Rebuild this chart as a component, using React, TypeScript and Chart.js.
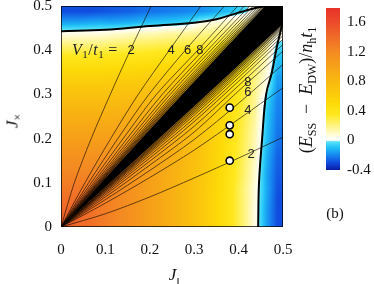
import React, { useEffect, useRef } from 'react';
import { Chart, registerables } from 'chart.js';
Chart.register(...registerables);

// ---------- data ----------
const gridStep = 0.025;
// (E_SS - E_DW)/n_h t_1 at cell centres of a 0.025 grid; row i (J_x cell), entries for J cells j >= i (mirrored above the diagonal)
const gapTriangle: number[][] = [
  [1.48, 1.42, 1.37, 1.31, 1.25, 1.19, 1.13, 1.06, 0.99, 0.92, 0.84, 0.76, 0.67, 0.57, 0.47, 0.35, 0.21, 0.05, -0.15, -0.30],
  [1.42, 1.37, 1.31, 1.25, 1.19, 1.13, 1.06, 0.99, 0.92, 0.84, 0.76, 0.67, 0.57, 0.47, 0.35, 0.21, 0.05, -0.15, -0.30],
  [1.37, 1.31, 1.25, 1.19, 1.13, 1.06, 0.99, 0.92, 0.84, 0.76, 0.67, 0.57, 0.47, 0.35, 0.21, 0.06, -0.14, -0.30],
  [1.31, 1.25, 1.19, 1.13, 1.06, 0.99, 0.92, 0.84, 0.76, 0.67, 0.57, 0.47, 0.35, 0.21, 0.06, -0.13, -0.29],
  [1.25, 1.19, 1.13, 1.06, 0.99, 0.92, 0.84, 0.76, 0.68, 0.58, 0.48, 0.37, 0.23, 0.08, -0.14, -0.28],
  [1.19, 1.13, 1.06, 0.99, 0.93, 0.85, 0.77, 0.69, 0.59, 0.49, 0.37, 0.24, 0.09, -0.13, -0.27],
  [1.13, 1.06, 1.00, 0.93, 0.87, 0.78, 0.69, 0.59, 0.49, 0.37, 0.25, 0.11, -0.12, -0.26],
  [1.07, 1.00, 0.94, 0.87, 0.78, 0.70, 0.60, 0.50, 0.38, 0.26, 0.12, -0.10, -0.24],
  [1.00, 0.94, 0.87, 0.79, 0.70, 0.61, 0.51, 0.39, 0.27, 0.13, -0.09, -0.23],
  [0.94, 0.88, 0.79, 0.71, 0.61, 0.51, 0.40, 0.28, 0.15, -0.08, -0.22],
  [0.88, 0.80, 0.71, 0.62, 0.52, 0.41, 0.29, 0.16, -0.07, -0.21],
  [0.80, 0.72, 0.62, 0.53, 0.42, 0.30, 0.17, -0.05, -0.20],
  [0.73, 0.63, 0.54, 0.43, 0.31, 0.18, 0.03, -0.18],
  [0.65, 0.55, 0.44, 0.32, 0.20, 0.06, -0.16],
  [0.57, 0.46, 0.35, 0.23, 0.09, -0.12],
  [0.49, 0.37, 0.26, 0.13, -0.09],
  [0.40, 0.29, 0.17, -0.04],
  [0.31, 0.19, 0.06],
  [0.22, 0.09],
  [0.09],
];

// contour lines of constant V1/t1 (branch below the diagonal: J_x at the J values of jGrid)
const jGrid = [0, 0.1, 0.2, 0.3, 0.4, 0.5];
const contourLower: number[][] = [
  [0, 0.030, 0.068, 0.111, 0.156, 0.203], // 2
  [0, 0.054, 0.112, 0.174, 0.244, 0.315], // 4
  [0, 0.062, 0.128, 0.198, 0.280, 0.368], // 6
  [0, 0.068, 0.140, 0.215, 0.308, 0.398], // 8
  [0, 0.073, 0.149, 0.228, 0.320, 0.413], // 10
  [0, 0.077, 0.156, 0.2385, 0.330, 0.425], // 12
  [0, 0.080, 0.162, 0.246, 0.338, 0.433], // 14
  [0, 0.0825, 0.167, 0.253, 0.345, 0.440], // 16
  [0, 0.0845, 0.1706, 0.258, 0.350, 0.446], // 20
  [0, 0.0862, 0.1736, 0.262, 0.355, 0.451], // 24
  [0, 0.0877, 0.1764, 0.266, 0.359, 0.455], // 30
  [0, 0.089, 0.179, 0.270, 0.363, 0.458], // 40
];
const bandEdgeLower = [0, 0.0905, 0.1816, 0.273, 0.366, 0.46];

const topBoundaryJ = [0, 0.1, 0.2, 0.3, 0.35, 0.4, 0.44, 0.47];
const topBoundaryJx = [0.443, 0.446, 0.455, 0.462, 0.47, 0.485, 0.496, 0.5];
const rightBoundaryJ = [0.444, 0.446, 0.453, 0.462, 0.475, 0.486, 0.496, 0.5];
const rightBoundaryJx = [0, 0.1, 0.2, 0.3, 0.35, 0.407, 0.45, 0.47];

const markerJ = [0.38, 0.38, 0.38, 0.38];
const markerJx = [0.15, 0.21, 0.23, 0.27];

const contourLabels = ['2', '4', '6', '8'];
const upperLabelJ = [0.158, 0.248, 0.285, 0.313];
const upperLabelJx = [0.4, 0.4, 0.4, 0.4];
const lowerLabelJ = [0.428, 0.421, 0.421, 0.421];
const lowerLabelJx = [0.165, 0.264, 0.304, 0.327];
const ratioLabelPos = [0.025, 0.389];

const axisTicks = [0, 0.1, 0.2, 0.3, 0.4, 0.5];
const colorbarTicks = [-0.4, 0, 0.4, 0.8, 1.2, 1.6];
const colorbarRange = [-0.4, 1.79];

const cmapValues = [-0.4, -0.3, -0.2, -0.1, -0.02, -0.005, 0, 0.06, 0.2, 0.35, 0.5, 0.65, 0.8, 1.0, 1.2, 1.4, 1.6, 1.8];
const cmapColors: number[][] = [
  [10, 28, 165], [16, 76, 222], [22, 134, 240], [32, 192, 246], [84, 226, 250], [175, 242, 250],
  [255, 255, 255], [255, 253, 225], [255, 244, 130], [255, 232, 30], [253, 218, 8], [251, 200, 12],
  [249, 185, 16], [246, 162, 24], [244, 138, 34], [240, 106, 40], [236, 74, 42], [232, 50, 42],
];

// ---------- helpers ----------
function rgbFor(v: number): number[] {
  if (v <= cmapValues[0]) return cmapColors[0];
  for (let k = 1; k < cmapValues.length; k++) {
    if (v <= cmapValues[k]) {
      const t = (v - cmapValues[k - 1]) / (cmapValues[k] - cmapValues[k - 1]);
      const a = cmapColors[k - 1], b = cmapColors[k];
      return a.map((ai, m) => Math.round(ai + (b[m] - ai) * t));
    }
  }
  return cmapColors[cmapColors.length - 1];
}

const nCells = gapTriangle.length;
const gapGrid: number[][] = [];
for (let i = 0; i < nCells; i++) {
  const row: number[] = [];
  for (let j = 0; j < nCells; j++) row.push(j >= i ? gapTriangle[i][j - i] : gapTriangle[j][i - j]);
  gapGrid.push(row);
}

// smooth (bilinear) shading between cell centres, like pm3d interpolation
function shadeAt(jv: number, jxv: number): number {
  const u = Math.min(nCells - 1, Math.max(0, jv / gridStep - 0.5));
  const w = Math.min(nCells - 1, Math.max(0, jxv / gridStep - 0.5));
  const j0 = Math.min(nCells - 2, Math.floor(u)), i0 = Math.min(nCells - 2, Math.floor(w));
  const fu = u - j0, fw = w - i0;
  const a = gapGrid[i0][j0], b = gapGrid[i0][j0 + 1], c = gapGrid[i0 + 1][j0], d = gapGrid[i0 + 1][j0 + 1];
  return (a * (1 - fu) + b * fu) * (1 - fw) + (c * (1 - fu) + d * fu) * fw;
}

const fmt = (v: number) => (Math.abs(v) < 1e-9 ? '0' : v.toFixed(1));
const serif = '"Liberation Serif", "Times New Roman", serif';

const heatmapPlugin = {
  id: 'heatmap',
  beforeDatasetsDraw(chart: any) {
    const { ctx, chartArea, scales } = chart;
    const xs = scales.x, ys = scales.y;
    const px = (v: number) => xs.getPixelForValue(v);
    const py = (v: number) => ys.getPixelForValue(v);
    const L = Math.round(chartArea.left), T = Math.round(chartArea.top);
    const W = Math.round(chartArea.right) - L, H = Math.round(chartArea.bottom) - T;
    const img = ctx.createImageData(W, H);
    for (let yy = 0; yy < H; yy++) {
      const jxv = ys.getValueForPixel(T + yy + 0.5);
      for (let xx = 0; xx < W; xx++) {
        const jv = xs.getValueForPixel(L + xx + 0.5);
        const c = rgbFor(shadeAt(jv, jxv));
        const o = (yy * W + xx) * 4;
        img.data[o] = c[0]; img.data[o + 1] = c[1]; img.data[o + 2] = c[2]; img.data[o + 3] = 255;
      }
    }
    ctx.putImageData(img, L, T);
    ctx.save();
    ctx.beginPath();
    ctx.rect(chartArea.left, chartArea.top, chartArea.right - chartArea.left, chartArea.bottom - chartArea.top);
    ctx.clip();
    // dense bundle of contour lines along the diagonal
    const bandPath = () => {
      ctx.beginPath();
      ctx.moveTo(px(jGrid[0]), py(bandEdgeLower[0]));
      for (let k = 1; k < jGrid.length; k++) ctx.lineTo(px(jGrid[k]), py(bandEdgeLower[k]));
      ctx.lineTo(px(0.5), py(0.5));
      for (let k = jGrid.length - 1; k >= 0; k--) ctx.lineTo(px(bandEdgeLower[k]), py(jGrid[k]));
      ctx.closePath();
    };
    ctx.filter = 'blur(3px)';
    ctx.fillStyle = 'rgba(20,8,0,0.85)';
    bandPath();
    ctx.fill();
    ctx.filter = 'none';
    ctx.fillStyle = '#000';
    bandPath();
    ctx.fill();
    ctx.restore();
  },
  afterDatasetsDraw(chart: any) {
    const { ctx, chartArea, scales } = chart;
    const xs = scales.x, ys = scales.y;
    ctx.save();
    ctx.font = '13px "Liberation Sans", Arial, sans-serif';
    ctx.fillStyle = '#222';
    ctx.textAlign = 'center';
    ctx.textBaseline = 'middle';
    contourLabels.forEach((t, k) => {
      ctx.fillText(t, xs.getPixelForValue(upperLabelJ[k]), ys.getPixelForValue(upperLabelJx[k]));
      ctx.fillText(t, xs.getPixelForValue(lowerLabelJ[k]), ys.getPixelForValue(lowerLabelJx[k]));
    });
    let px = xs.getPixelForValue(ratioLabelPos[0]);
    const py = ys.getPixelForValue(ratioLabelPos[1]);
    ctx.textAlign = 'left';
    ctx.textBaseline = 'alphabetic';
    const parts: [string, string, number][] = [
      ['V', `italic 16px ${serif}`, 0], ['1', `11px ${serif}`, 3], ['/', `16px ${serif}`, 0],
      ['t', `italic 16px ${serif}`, 0], ['1', `11px ${serif}`, 3], [' =', `16px ${serif}`, 0],
    ];
    for (const [txt, font, dy] of parts) {
      ctx.font = font;
      ctx.fillText(txt, px, py + dy);
      px += ctx.measureText(txt).width + 0.5;
    }
    ctx.strokeStyle = 'rgba(0,0,0,0.75)';
    ctx.lineWidth = 1;
    ctx.strokeRect(chartArea.left + 0.5, chartArea.top + 0.5, chartArea.right - chartArea.left - 1, chartArea.bottom - chartArea.top - 1);
    ctx.restore();
  },
};

const colorbarPlugin = {
  id: 'colorbarFill',
  beforeDatasetsDraw(chart: any) {
    const { ctx, chartArea, scales } = chart;
    const ys = scales.y;
    const h = chartArea.bottom - chartArea.top;
    const g = ctx.createLinearGradient(0, chartArea.bottom, 0, chartArea.top);
    cmapValues.forEach((v, k) => {
      const t = Math.min(1, Math.max(0, (chartArea.bottom - ys.getPixelForValue(v)) / h));
      g.addColorStop(t, `rgb(${cmapColors[k].join(',')})`);
    });
    ctx.save();
    ctx.fillStyle = g;
    ctx.fillRect(chartArea.left, chartArea.top, chartArea.right - chartArea.left, h);
    ctx.restore();
  },
};

const zeroPad = (s: any) => { s.paddingTop = 0; s.paddingBottom = 0; s.paddingLeft = 0; s.paddingRight = 0; };

export default function App() {
  const mainRef = useRef<HTMLCanvasElement>(null);
  const cbRef = useRef<HTMLCanvasElement>(null);

  useEffect(() => {
    const datasets: any[] = [];
    datasets.push({
      label: 'markers',
      data: markerJ.map((x, k) => ({ x, y: markerJx[k] })),
      showLine: false,
      pointRadius: 3.6,
      pointBackgroundColor: '#ffffff',
      pointBorderColor: '#000000',
      pointBorderWidth: 1.6,
      order: 0,
    });
    datasets.push({
      label: 'top boundary',
      data: topBoundaryJ.map((x, k) => ({ x, y: topBoundaryJx[k] })),
      showLine: true, pointRadius: 0, borderColor: '#000', borderWidth: 2, tension: 0.4, order: 1,
    });
    datasets.push({
      label: 'right boundary',
      data: rightBoundaryJ.map((x, k) => ({ x, y: rightBoundaryJx[k] })),
      showLine: true, pointRadius: 0, borderColor: '#000', borderWidth: 2, tension: 0.4, order: 1,
    });
    contourLower.forEach((line, n) => {
      datasets.push({
        label: `lower ${n}`,
        data: jGrid.map((x, k) => ({ x, y: line[k] })),
        showLine: true, pointRadius: 0, borderColor: 'rgba(20,10,0,0.8)', borderWidth: 0.8, tension: 0.3, order: 2,
      });
      datasets.push({
        label: `upper ${n}`,
        data: jGrid.map((y, k) => ({ x: line[k], y })),
        showLine: true, pointRadius: 0, borderColor: 'rgba(20,10,0,0.8)', borderWidth: 0.8, tension: 0.3, order: 2,
      });
    });

    const tickFont = { family: serif, size: 15 };
    const main = new Chart(mainRef.current as HTMLCanvasElement, {
      type: 'scatter',
      data: { datasets },
      options: {
        animation: false,
        responsive: false,
        devicePixelRatio: 1,
        events: [],
        layout: { padding: { left: 0, right: 17, top: 6, bottom: 0 } },
        plugins: { legend: { display: false }, tooltip: { enabled: false } },
        scales: {
          x: {
            type: 'linear', min: 0, max: 0.5,
            afterBuildTicks: (s: any) => { s.ticks = axisTicks.map((value) => ({ value })); },
            afterFit: (s: any) => { s.height = 57; zeroPad(s); },
            grid: { display: false, drawTicks: false },
            border: { display: false },
            ticks: { font: tickFont, color: '#111', padding: 14, maxRotation: 0, callback: (v: any) => fmt(Number(v)) },
          },
          y: {
            type: 'linear', min: 0, max: 0.5,
            afterBuildTicks: (s: any) => { s.ticks = axisTicks.map((value) => ({ value })); },
            afterFit: (s: any) => { s.width = 61; zeroPad(s); },
            grid: { display: false, drawTicks: false },
            border: { display: false },
            ticks: { font: tickFont, color: '#111', padding: 9, callback: (v: any) => fmt(Number(v)) },
          },
        },
      },
      plugins: [heatmapPlugin],
    } as any);

    const cb = new Chart(cbRef.current as HTMLCanvasElement, {
      type: 'scatter',
      data: { datasets: [] },
      options: {
        animation: false,
        responsive: false,
        devicePixelRatio: 1,
        events: [],
        layout: { padding: { left: 26, right: 0, top: 8, bottom: 114 } },
        plugins: { legend: { display: false }, tooltip: { enabled: false } },
        scales: {
          x: { display: false, min: 0, max: 1 },
          y: {
            position: 'right', min: colorbarRange[0], max: colorbarRange[1],
            afterBuildTicks: (s: any) => { s.ticks = colorbarTicks.map((value) => ({ value })); },
            afterFit: (s: any) => { s.width = 34; zeroPad(s); },
            grid: { display: false, drawTicks: false },
            border: { display: false },
            ticks: { font: tickFont, color: '#111', padding: 7, callback: (v: any) => fmt(Number(v)) },
          },
        },
      },
      plugins: [colorbarPlugin],
    } as any);

    return () => { main.destroy(); cb.destroy(); };
  }, []);

  const sub = (t: string, size = 11, top = 4): React.ReactNode => (
    <span style={{ fontSize: size, fontStyle: 'normal', position: 'relative', top }}>{t}</span>
  );

  return (
    <div style={{ position: 'fixed', left: 0, top: 0, width: 374, height: 284, background: '#fff', overflow: 'hidden', fontFamily: serif }}>
      <canvas ref={mainRef} width={300} height={284} style={{ position: 'absolute', left: 0, top: 0, width: 300, height: 284 }} />
      <canvas ref={cbRef} width={74} height={284} style={{ position: 'absolute', left: 300, top: 0, width: 74, height: 284 }} />
      <div style={{ position: 'absolute', left: 174, top: 274, transform: 'translate(-50%,-50%)', fontSize: 17, fontStyle: 'italic', lineHeight: 1, whiteSpace: 'nowrap', color: '#111' }}>
        J{sub('‖', 11, 5)}
      </div>
      <div style={{ position: 'absolute', left: 12, top: 121, transform: 'translate(-50%,-50%) rotate(-90deg)', fontSize: 17, fontStyle: 'italic', lineHeight: 1, whiteSpace: 'nowrap', color: '#111' }}>
        J{sub('×', 12, 4)}
      </div>
      <div style={{ position: 'absolute', left: 306, top: 90, transform: 'translate(-50%,-50%) rotate(-90deg)', fontSize: 18, lineHeight: 1, whiteSpace: 'nowrap', color: '#111' }}>
        (<i>E</i>{sub('SS', 12, 4)}&nbsp;&nbsp;−&nbsp;&nbsp;<i>E</i>{sub('DW', 12, 4)})/<i>n</i>{sub('h', 12, 4)}<i>t</i>{sub('1', 12, 4)}
      </div>
      <div style={{ position: 'absolute', left: 335, top: 213, transform: 'translate(-50%,-50%)', fontSize: 15, lineHeight: 1, whiteSpace: 'nowrap', color: '#111' }}>
        (b)
      </div>
    </div>
  );
}
